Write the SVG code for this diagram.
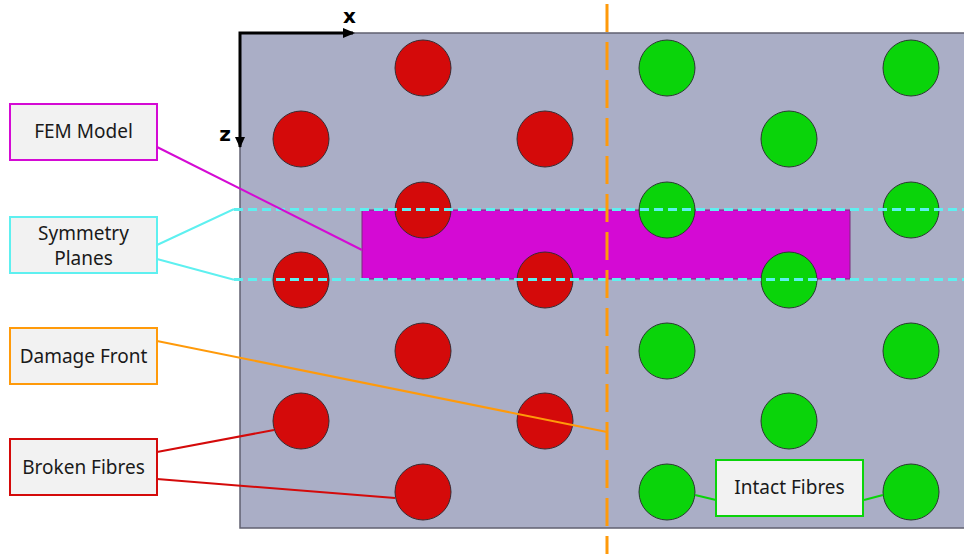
<svg xmlns="http://www.w3.org/2000/svg" width="964" height="554" viewBox="0 0 964 554">
<defs>
<style>
.lbl{fill:#f2f2f2;stroke-width:2}
.t{font-family:"Noto Sans","Open Sans",sans-serif;font-size:19px;fill:#1a1a1a;text-anchor:middle}
.red{fill:#d40a0a;stroke:#3a2a30;stroke-width:1}
.grn{fill:#0ad40a;stroke:#2a3a30;stroke-width:1}
.ax{font-family:"DejaVu Sans",sans-serif;font-weight:bold;font-size:20px;fill:#000}
</style>
</defs>
<rect width="964" height="554" fill="#fff"/>
<g id="laminate">
<rect x="240" y="33" width="730" height="495" fill="#aaaec6" stroke="#606070" stroke-width="1.5"/>
</g>
<g id="fem-model-region">
<rect x="362" y="210" width="488" height="69" fill="#d40ad4" stroke="#7a2a7a" stroke-width="1"/>
</g>
<g id="fibres">
<circle class="red" cx="423" cy="68" r="28"/>
<circle class="grn" cx="667" cy="68" r="28"/>
<circle class="grn" cx="911" cy="68" r="28"/>
<circle class="red" cx="301" cy="139" r="28"/>
<circle class="red" cx="545" cy="139" r="28"/>
<circle class="grn" cx="789" cy="139" r="28"/>
<circle class="red" cx="423" cy="210" r="28"/>
<circle class="grn" cx="667" cy="210" r="28"/>
<circle class="grn" cx="911" cy="210" r="28"/>
<circle class="red" cx="301" cy="280" r="28"/>
<circle class="red" cx="545" cy="280" r="28"/>
<circle class="grn" cx="789" cy="280" r="28"/>
<circle class="red" cx="423" cy="351" r="28"/>
<circle class="grn" cx="667" cy="351" r="28"/>
<circle class="grn" cx="911" cy="351" r="28"/>
<circle class="red" cx="301" cy="421" r="28"/>
<circle class="red" cx="545" cy="421" r="28"/>
<circle class="grn" cx="789" cy="421" r="28"/>
<circle class="red" cx="423" cy="492" r="28"/>
<circle class="grn" cx="667" cy="492" r="28"/>
<circle class="grn" cx="911" cy="492" r="28"/>
</g>
<g id="connectors" fill="none" stroke-width="2">
<line x1="234" y1="209.5" x2="964" y2="209.5" stroke="#5ef0f0" stroke-width="3" stroke-dasharray="9 5"/>
<line x1="234" y1="279.5" x2="964" y2="279.5" stroke="#5ef0f0" stroke-width="3" stroke-dasharray="9 5"/>
<line x1="607" y1="4" x2="607" y2="554" stroke="#ff9a0a" stroke-width="3" stroke-dasharray="28 10"/>
<line x1="157" y1="147" x2="362" y2="250" stroke="#d40ad4"/>
<polyline points="157,245 233,209.5 236,209.5" stroke="#5ef0f0"/>
<polyline points="157,259 233,279.5 236,279.5" stroke="#5ef0f0"/>
<line x1="157" y1="341" x2="607" y2="432" stroke="#ff9a0a"/>
<line x1="157" y1="452" x2="274" y2="430" stroke="#d40a0a"/>
<line x1="157" y1="479" x2="395" y2="498" stroke="#d40a0a"/>
<line x1="716" y1="500" x2="695" y2="495" stroke="#0ad40a"/>
<line x1="864" y1="500" x2="883" y2="495" stroke="#0ad40a"/>
</g>
<g id="axes">
<polyline points="353,33 240,33 240,147" fill="none" stroke="#000" stroke-width="3"/>
<path d="M343,28 L355,33 L343,38 Z" fill="#000"/>
<path d="M235,137 L240,148 L245,137 Z" fill="#000"/>
<text class="ax" x="349.5" y="23" text-anchor="middle">x</text>
<text class="ax" x="225" y="141" text-anchor="middle">z</text>
</g>
<g id="label-fem">
<rect class="lbl" x="10" y="104" width="147" height="56" stroke="#d40ad4"/>
<text class="t" x="83.5" y="138">FEM Model</text>
</g>
<g id="label-symmetry">
<rect class="lbl" x="10" y="217" width="147" height="56" stroke="#5ef0f0"/>
<text class="t" x="83.5" y="240">Symmetry</text>
<text class="t" x="83.5" y="265">Planes</text>
</g>
<g id="label-damage">
<rect class="lbl" x="10" y="328" width="147" height="56" stroke="#ff9a0a"/>
<text class="t" x="83.5" y="363">Damage Front</text>
</g>
<g id="label-broken">
<rect class="lbl" x="10" y="439" width="147" height="56" stroke="#d40a0a"/>
<text class="t" x="83.5" y="474">Broken Fibres</text>
</g>
<g id="label-intact">
<rect class="lbl" x="716" y="460" width="147" height="56" stroke="#0ad40a"/>
<text class="t" x="789.5" y="494">Intact Fibres</text>
</g>
</svg>
